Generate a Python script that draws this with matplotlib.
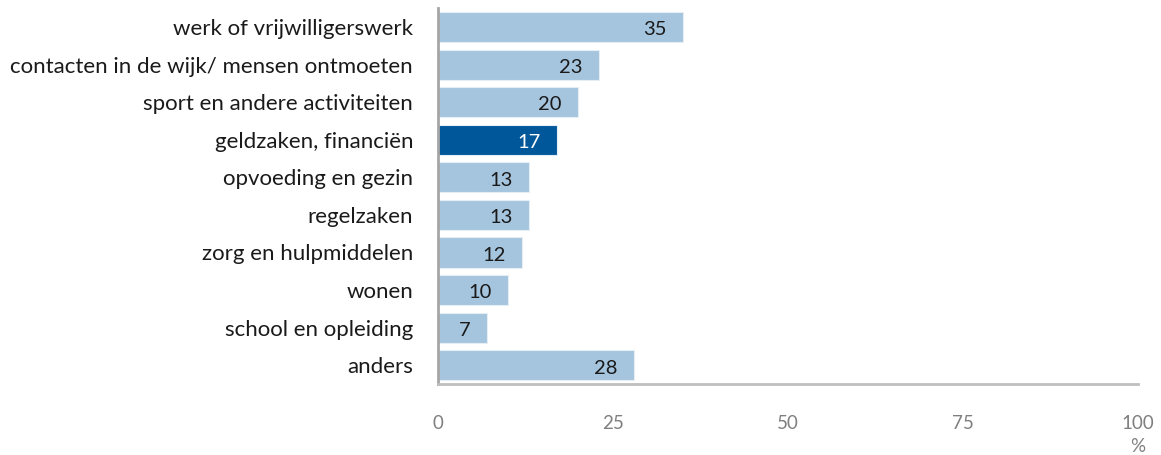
import matplotlib.pyplot as plt

categories = [
    "werk of vrijwilligerswerk",
    "contacten in de wijk/ mensen ontmoeten",
    "sport en andere activiteiten",
    "geldzaken, financiën",
    "opvoeding en gezin",
    "regelzaken",
    "zorg en hulpmiddelen",
    "wonen",
    "school en opleiding",
    "anders",
]
values = [35, 23, 20, 17, 13, 13, 12, 10, 7, 28]
highlight = "geldzaken, financiën"
x_ticks = [0, 25, 50, 75, 100]

light = "#a5c4dd"
dark = "#00589b"

plt.rcParams["font.family"] = ["Lato", "DejaVu Sans"]

fig = plt.figure(figsize=(11.61, 4.55), dpi=100)
ax = fig.add_axes([0.3773, 0.156, 0.6030, 0.826])

y = list(range(len(categories)))
colors = [dark if c == highlight else light for c in categories]
bars = ax.barh(y, values, height=0.8, color=colors, edgecolor="#e6eef5", linewidth=0.8)

# value labels sit inside the bar, near its end
for yi, v, c in zip(y, values, categories):
    ax.annotate(str(v), xy=(v, yi), xytext=(-12, -2), textcoords="offset points",
                ha="right", va="center", fontsize=14.5,
                color="white" if c == highlight else "#1a1a1a")

ax.set_xlim(0, 100)
ax.set_ylim(len(categories) - 0.5, -0.5)
ax.set_yticks(y)
ax.set_yticklabels(categories, fontsize=16, color="#1a1a1a")
ax.set_xticks(x_ticks)
ax.set_xticklabels([str(t) for t in x_ticks], fontsize=13.5, color="#7f7f7f")
ax.tick_params(axis="y", length=0, pad=18)
ax.tick_params(axis="x", length=0, pad=22)

for side in ["top", "right"]:
    ax.spines[side].set_visible(False)
ax.spines["left"].set_color("#a6a6a6")
ax.spines["left"].set_linewidth(2)
ax.spines["bottom"].set_color("#bfbfbf")
ax.spines["bottom"].set_linewidth(2)

ax.text(100, -0.165, "%", transform=ax.get_xaxis_transform(), ha="center", va="center",
        fontsize=13.5, color="#7f7f7f")

plt.savefig("out.png", dpi=100)
plt.close()
